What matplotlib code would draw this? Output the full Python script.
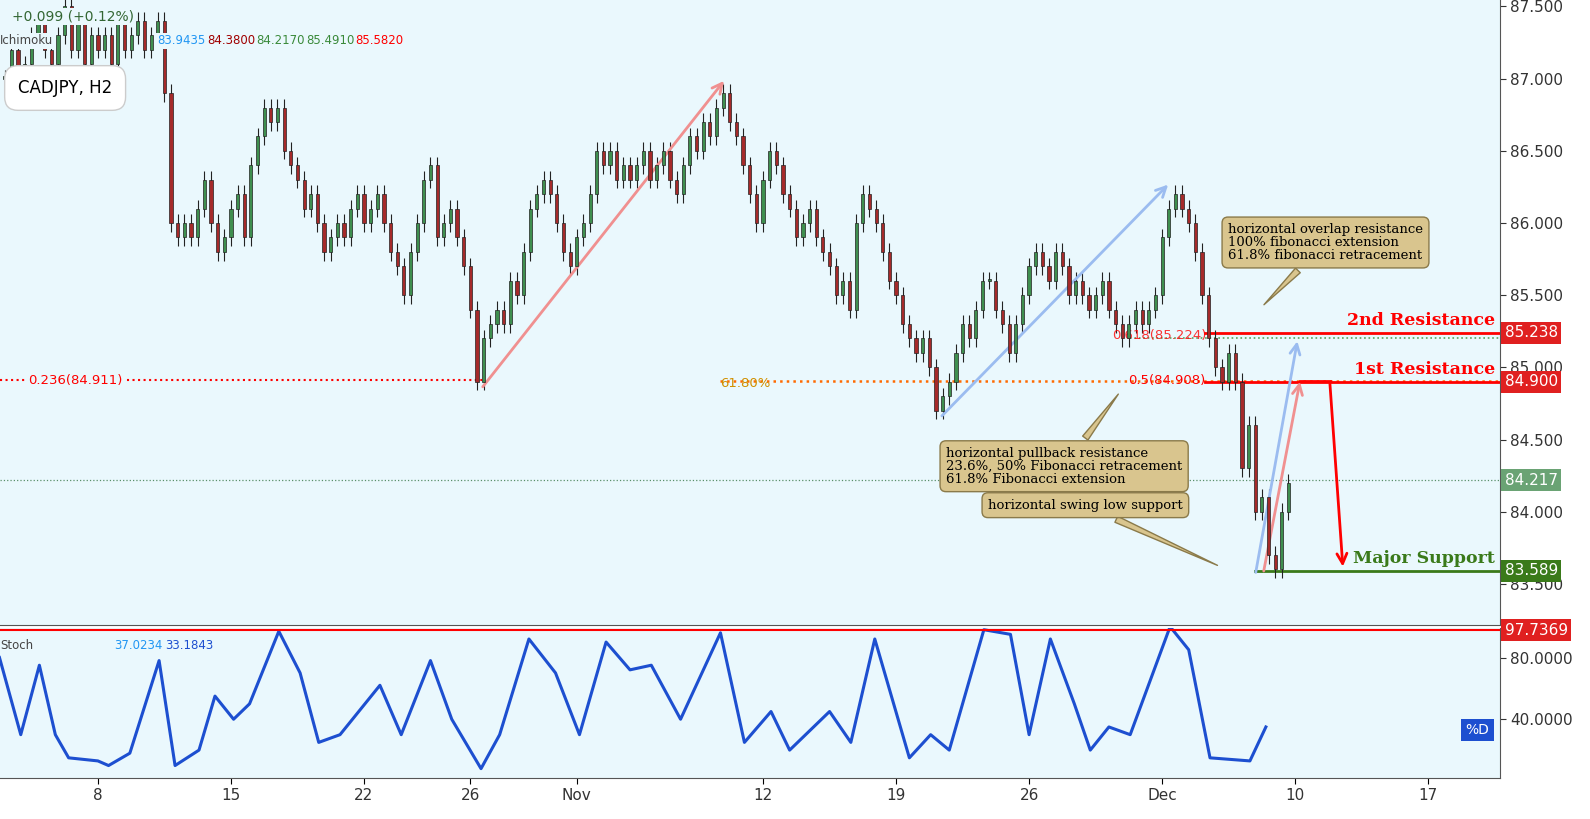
import matplotlib
matplotlib.use("Agg")
import matplotlib.pyplot as plt
import numpy as np

# ---- data ----
start_day = -3.5
closes = [87.0,87.2,86.9,87.1, 87.3,87.4,87.2,87.1, 87.3,87.5,87.2,87.4, 87.1,87.3,
 87.2,87.3,87.1,87.4, 87.2,87.3,87.4,87.2, 87.3,87.4,86.9,86.0, 85.9,86.0,85.9,86.1,
 86.3,86.0,85.8,85.9, 86.1,86.2,85.9,86.4, 86.6,86.8,86.7,86.8, 86.5,86.4,86.3,86.1,
 86.2,86.0,85.8,85.9, 86.0,85.9,86.1,86.2, 86.0,86.1,86.2,86.0, 85.8,85.7,85.5,85.8,
 86.0,86.3,86.4,85.9, 86.0,86.1,85.9,85.7, 85.4,84.9,85.2,85.3, 85.4,85.3,85.6,85.5,
 85.8,86.1,86.2,86.3, 86.2,86.0,85.8,85.7, 85.9,86.0,86.2,86.5, 86.4,86.5,86.3,86.4,
 86.3,86.4,86.5,86.3, 86.4,86.5,86.3,86.2, 86.4,86.6,86.5,86.7, 86.6,86.8,86.9,86.7,
 86.6,86.4,86.2,86.0, 86.3,86.5,86.4,86.2, 86.1,85.9,86.0,86.1, 85.9,85.8,85.7,85.5,
 85.6,85.4,86.0,86.2, 86.1,86.0,85.8,85.6, 85.5,85.3,85.2,85.1, 85.2,85.0,84.7,84.8,
 84.9,85.1,85.3,85.2, 85.4,85.6,85.6,85.4, 85.3,85.1,85.3,85.5, 85.7,85.8,85.7,85.6,
 85.8,85.7,85.5,85.6, 85.5,85.4,85.5,85.6, 85.4,85.3,85.2,85.3, 85.4,85.3,85.4,85.5,
 85.9,86.1,86.2,86.1, 86.0,85.8,85.5,85.2, 85.0,84.9,85.1,84.9, 84.3,84.6,84.0,84.1,
 83.7,83.6,84.0,84.2]
stoch_day = [-3.7,-2.9,-2.2,-1.6,-1.1,0,0.4,1.2,2.3,2.9,3.8,4.4,5.1,5.7,6.8,7.6,8.3,9.1,
 10.6,11.4,12.5,13.3,14.4,15.1,16.2,17.2,18.1,19.1,20,20.8,21.9,23.4,24.3,25.3,26,27.5,
 28.3,29.2,30.5,31.3,32,33.3,34.3,35,35.8,36.7,37.3,38,38.8,40.3,41,41.8,43.3,43.9]
stoch_val = [80,30,75,30,15,13,10,18,78,10,20,55,40,50,97,70,25,30,62,30,78,40,8,30,92,
 70,30,90,72,75,40,96,25,45,20,45,25,92,15,30,20,98,95,30,92,50,20,35,30,100,85,15,13,35]
tick_days = [0,5,10,14,18,25,30,35,40,45,50]
tick_labels = ["8","15","22","26","Nov","12","19","26","Dec","10","17"]
price_ticks = [83.5,84.0,84.5,85.0,85.5,86.0,86.5,87.0,87.5]

BG = "#eaf8fd"
fig = plt.figure(figsize=(15.9, 8.19), dpi=100)
fig.patch.set_facecolor("white")
ax = fig.add_axes([0, 0.2369, 0.9434, 0.7631])
ax2 = fig.add_axes([0, 0.05, 0.9434, 0.183])
XL = (-3.68, 52.7)
for a in (ax, ax2):
    a.set_facecolor(BG)
    a.set_xlim(*XL)
    a.yaxis.tick_right()
    a.tick_params(axis="y", labelsize=11, colors="#333", length=4)
    for s in a.spines.values():
        s.set_color("#555")
    a.spines["left"].set_visible(False)
    a.spines["top"].set_visible(False)
ax.set_ylim(83.215, 87.545)
ax.set_yticks(price_ticks)
ax.set_yticklabels([f"{p:.3f}" for p in price_ticks])
ax.set_xticks([])
ax2.set_ylim(1.9, 99)
ax2.set_yticks([40, 80])
ax2.set_yticklabels(["40.0000", "80.0000"])
ax2.set_xticks(tick_days)
ax2.set_xticklabels(tick_labels, fontsize=11, color="#333")
ax2.tick_params(axis="x", length=4)

# candles
n = len(closes)
xs = start_day + 0.25*np.arange(n)
opens = [closes[0]] + closes[:-1]
for x, o, c in zip(xs, opens, closes):
    up = c >= o
    col = "#3f8f4f" if up else "#a52a2a"
    lo, hi = min(o, c), max(o, c)
    ax.vlines(x, lo-0.06, hi+0.06, color="#222", lw=0.8, zorder=3)
    ax.bar(x, max(hi-lo, 0.015), bottom=lo, width=0.12, color=col,
           edgecolor="#222", lw=0.5, zorder=4)

def d(px):
    return XL[0] + px/1500*(XL[1]-XL[0])
ax.axhline(84.217, color="#5a8f6a", ls=":", lw=0.9)
ax.plot([d(0), d(482)], [84.911]*2, color="red", ls=":", lw=1.5)
ax.text(d(28), 84.911, "0.236(84.911)", color="red", fontsize=9.5, va="center",
        bbox=dict(fc=BG, ec="none", pad=1))
ax.plot([d(720), d(1500)], [84.905]*2, color="#ff6a00", ls=":", lw=1.8)
ax.text(d(720), 84.89, "61.80%", color="#d09000", fontsize=9.5, va="center")
ax.text(d(1128), 84.91, "0.5(84.908)", color="red", fontsize=9.5, va="center")
ax.plot([d(1130), d(1500)], [85.20]*2, color="#5aa05a", ls=":", lw=1.2)
ax.text(d(1112), 85.22, "0.618(85.224)", color="red", fontsize=9.5, va="center", alpha=0.8)
ax.plot([d(1205), d(1500)], [85.238]*2, color="red", lw=2)
ax.plot([d(1205), d(1500)], [84.90]*2, color="red", lw=2)
ax.plot([d(1255), d(1500)], [83.589]*2, color="#3a7a1a", lw=2)
for y, t, c in [(85.29, "2nd Resistance", "red"), (84.955, "1st Resistance", "red"),
                (83.645, "Major Support", "#3a7a1a")]:
    ax.text(d(1495), y, t, color=c, fontsize=12.5, weight="bold", ha="right", family="DejaVu Serif")

def arr(x0, y0, x1, y1, col, lw=2):
    ax.annotate("", xy=(x1, y1), xytext=(x0, y0),
                arrowprops=dict(arrowstyle="->", color=col, lw=lw, mutation_scale=18))
arr(14.4, 84.85, 23.6, 87.0, "#f09090")
arr(31.65, 84.65, 40.3, 86.28, "#9bbcf0")
arr(43.5, 83.56, 45.1, 85.2, "#9bbcf0")
arr(43.8, 83.57, 45.2, 84.92, "#f09090")
ax.plot([45.2, 46.3], [84.905, 84.905], color="red", lw=2)
arr(46.3, 84.905, 46.8, 83.6, "red")

def callout(x0, y0, txt, px, py):
    ax.annotate(txt, xy=(px, py), xytext=(x0, y0), fontsize=9.5, family="DejaVu Serif",
                va="top", ha="left", linespacing=1.0,
                bbox=dict(boxstyle="round,pad=0.45", fc="#d9c58e", ec="#8a7a4a"),
                arrowprops=dict(arrowstyle="wedge,tail_width=0.5", fc="#d9c58e", ec="#8a7a4a"))
callout(d(1228), 86.0, "horizontal overlap resistance\n100% fibonacci extension\n61.8% fibonacci retracement",
        d(1262), 85.42)
callout(d(946), 84.45, "horizontal pullback resistance\n23.6%, 50% Fibonacci retracement\n61.8% Fibonacci extension",
        d(1120), 84.83)
callout(d(988), 84.09, "horizontal swing low support", d(1220), 83.62)

ax.text(0.008, 0.985, "+0.099 (+0.12%)", transform=ax.transAxes, fontsize=10, color="#336633", va="top",
        bbox=dict(fc=BG, ec="none", pad=1), zorder=6)
ax.text(0.0, 0.945, "Ichimoku", transform=ax.transAxes, fontsize=8.5, color="#444", va="top",
        bbox=dict(fc=BG, ec="none", pad=1), zorder=6)
for xx, t, c in [(0.105, "83.9435", "#2196f3"), (0.138, "84.3800", "#a00000"),
                 (0.171, "84.2170", "#3a8a3a"), (0.204, "85.4910", "#3a8a3a"), (0.237, "85.5820", "red")]:
    ax.text(xx, 0.945, t, transform=ax.transAxes, fontsize=8.5, color=c, va="top",
            bbox=dict(fc=BG, ec="none", pad=1), zorder=6)
fig.text(18/1590, 1-88/819, "CADJPY, H2", fontsize=12, va="center",
         bbox=dict(boxstyle="round,pad=0.8", fc="white", ec="#ccc"), zorder=10)

def pbox(a, y, txt, col):
    a.text(1.003, y, txt, transform=a.get_yaxis_transform(), color="white", fontsize=11,
           va="center", ha="left", bbox=dict(fc=col, ec="none", pad=2.5), clip_on=False)
pbox(ax, 85.238, "85.238", "#e02020")
pbox(ax, 84.90, "84.900", "#e02020")
pbox(ax, 84.217, "84.217", "#6aa374")
pbox(ax, 83.589, "83.589", "#3a7a1a")

ax2.plot(stoch_day, stoch_val, color="#1d4fd0", lw=2.2)
ax2.axhline(97.7369, color="red", lw=1.5)
pbox(ax2, 97.7369, "97.7369", "#e02020")
ax2.text(0.0, 0.93, "Stoch", transform=ax2.transAxes, fontsize=8.5, color="#444", va="top")
ax2.text(0.076, 0.93, "37.0234", transform=ax2.transAxes, fontsize=8.5, color="#2196f3", va="top")
ax2.text(0.11, 0.93, "33.1843", transform=ax2.transAxes, fontsize=8.5, color="#1d4fd0", va="top")
ax2.text(0.993, 33, "%D", transform=ax2.get_yaxis_transform(), color="white", fontsize=10,
         ha="right", va="center", bbox=dict(fc="#1d4fd0", ec="none", pad=3))

fig.savefig("out.png", dpi=100)
